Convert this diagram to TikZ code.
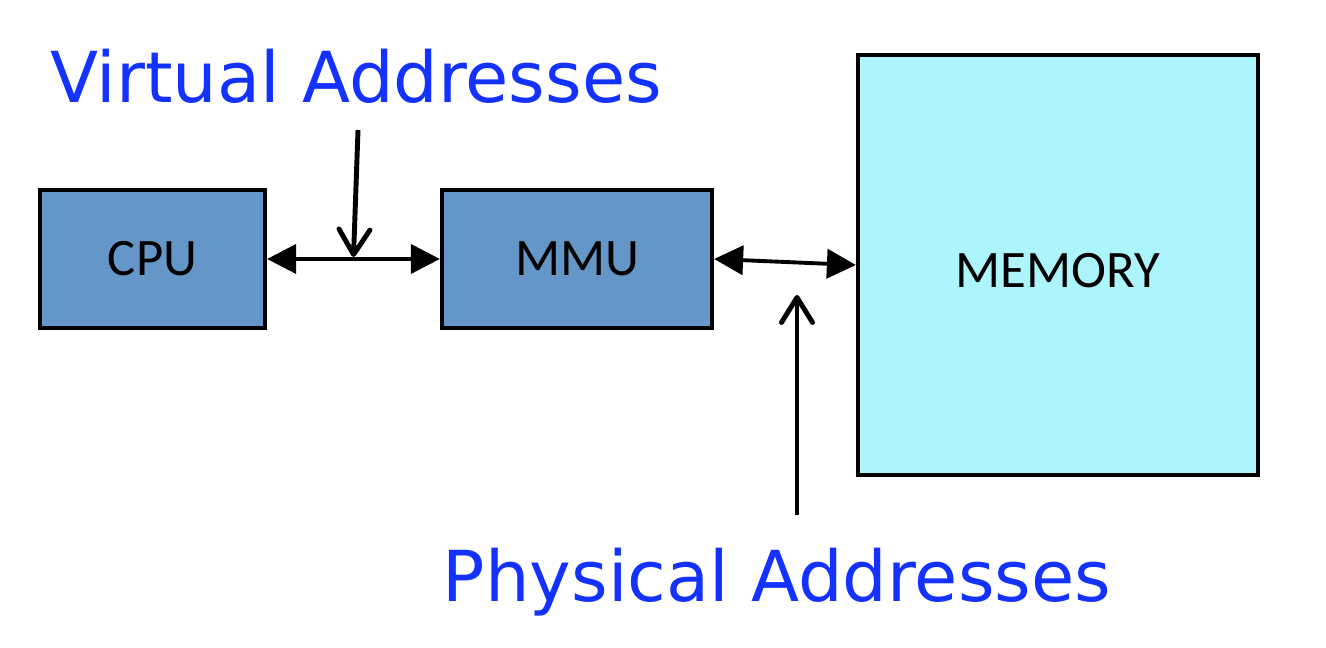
\documentclass[tikz,border=0pt]{standalone}
\usepackage{fontspec}
\setmainfont{Carlito}
\newfontfamily\labelfont{DejaVu Sans}
\usetikzlibrary{arrows.meta,calc}
\definecolor{cpublue}{RGB}{100,151,199}
\definecolor{memcyan}{RGB}{172,245,253}
\definecolor{addrblue}{RGB}{20,50,255}

\begin{document}
\begin{tikzpicture}[
  unit/.style={draw=black,line width=1.2pt,fill=cpublue,minimum width=2.25cm,minimum height=1.38cm,font=\fontsize{15}{18}\selectfont,inner sep=0pt},
  bus/.style={line width=1.1pt,{Triangle[length=2.9mm,width=2.9mm]}-{Triangle[length=2.9mm,width=2.9mm]}},
  pointer/.style={line width=1.4pt,-{Straight Barb[length=2.5mm,width=3.1mm,round]}},
  addr/.style={text=addrblue,font=\labelfont\fontsize{20}{24}\selectfont,anchor=base,inner sep=0pt}]
\useasboundingbox (0,0) rectangle (13.26,6.48);
\node[unit] (cpu) at (1.525,3.89) {CPU};
\node[unit,minimum width=2.70cm] (mmu) at (5.77,3.89) {MMU};
\node[unit,fill=memcyan,minimum width=4.00cm,minimum height=4.20cm,text height=0.45cm,text depth=0pt] (mem) at (10.58,3.83) {MEMORY};
\draw[bus] (cpu.east) -- (mmu.west);
\draw[bus] (mmu.east) -- (mem.west);
\node[addr] (virt) at (3.56,5.45) {Virtual Addresses};
\node[addr] (phys) at (7.77,0.46) {Physical Addresses};
\coordinate (vtail) at (3.58,5.18);
\coordinate (ptail) at (7.97,1.33);
\coordinate (ptip) at (7.97,3.53);
\draw[pointer] (vtail) -- ($(cpu.east)!0.5!(mmu.west)+(0,0.02)$);
\draw[pointer] (ptail) -- (ptip);
\end{tikzpicture}
\end{document}
